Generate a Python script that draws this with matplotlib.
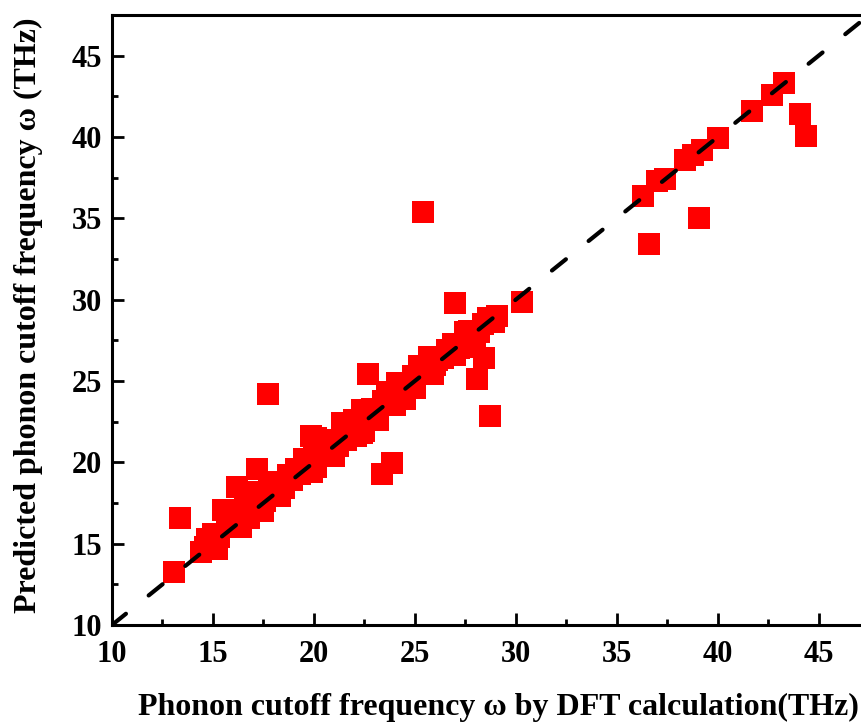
import matplotlib
matplotlib.use("Agg")
import matplotlib.pyplot as plt
from matplotlib.ticker import MultipleLocator

# phonon cutoff frequency (THz): DFT value vs. model prediction
dft = [13.05, 13.35, 17.75, 25.4, 27.0, 30.3, 28.1, 28.45, 28.7, 23.35, 23.85, 22.7,
       36.3, 37.0, 37.4, 38.4, 38.8, 39.2, 40.0, 39.1, 36.6, 41.7, 42.7, 43.3, 44.1, 44.4,
       14.4, 14.6, 14.7, 15.0, 15.3, 15.5, 15.7, 16.0, 16.2, 16.3, 16.6, 16.8, 17.0, 17.2,
       17.3, 17.6, 17.8, 18.0, 18.2, 18.5, 18.7, 18.9, 19.1, 19.3, 19.5, 19.7, 19.85, 20.0,
       20.1, 20.3, 20.5, 20.8, 20.8, 21.2, 21.4, 21.6, 21.8, 22.0, 22.1, 22.4, 22.4, 22.7,
       22.9, 23.1, 23.4, 23.6, 23.8, 24.0, 24.1, 24.4, 24.7, 24.9, 25.0, 25.2, 25.5, 25.7,
       26.0, 26.1, 26.4, 26.6, 26.9, 27.2, 27.5, 27.6, 27.7, 28.0, 28.2, 28.4, 28.6, 28.9,
       29.05, 15.2, 16.4, 17.5, 18.3, 19.9, 21.0, 22.5, 23.2, 24.5, 25.9, 27.0, 20.1, 21.6]
pred = [13.25, 16.6, 24.2, 35.4, 29.8, 29.85, 25.15, 26.4, 22.85, 19.3, 19.95, 25.45,
        36.35, 37.3, 37.4, 38.6, 38.9, 39.2, 39.95, 35.0, 33.45, 41.6, 42.6, 43.3, 41.4, 40.05,
        14.5, 14.8, 15.3, 15.6, 15.4, 17.1, 16.2, 16.0, 18.5, 16.5, 17.2, 16.6, 17.8, 19.6,
        18.2, 17.6, 18.6, 17.9, 18.8, 18.4, 19.2, 18.9, 19.6, 19.3, 20.2, 19.8, 21.6, 20.3,
        19.7, 20.6, 21.2, 20.8, 21.4, 21.0, 22.4, 21.4, 22.0, 22.6, 21.6, 23.2, 21.8, 22.9,
        23.3, 22.8, 23.8, 24.3, 24.0, 23.5, 24.9, 24.3, 24.8, 25.3, 24.6, 25.9, 25.4, 26.5,
        26.0, 26.3, 26.4, 26.9, 27.3, 27.0, 28.0, 27.1, 28.1, 27.6, 28.0, 28.5, 28.9, 28.6,
        29.0, 14.7, 16.0, 17.0, 17.9, 19.4, 20.4, 21.9, 22.6, 23.9, 25.4, 26.6, 21.5, 22.2]

xlim = (10, 47.1)
ylim = (10, 47.5)
ticks = [10, 15, 20, 25, 30, 35, 40, 45]

plt.rcParams['font.family'] = ['Liberation Serif', 'DejaVu Serif']
plt.rcParams['font.weight'] = 'bold'

fig = plt.figure(figsize=(8.61, 7.25), dpi=100)
ax = fig.add_axes([112 / 861, 100 / 725, 1 - 112 / 861, 610 / 725])

ax.scatter(dft, pred, marker='s', s=250, color='#ff0000', linewidths=0, zorder=2)
ax.plot([10, 50], [10, 50], color='black', lw=3, ls=(0, (4.3, 7)),
        dash_capstyle='round', zorder=3)

ax.set_xlim(*xlim)
ax.set_ylim(*ylim)
ax.set_xticks(ticks)
ax.set_yticks(ticks)
ax.xaxis.set_minor_locator(MultipleLocator(2.5))
ax.yaxis.set_minor_locator(MultipleLocator(2.5))
ax.tick_params(which='major', direction='in', length=8.6, width=2, labelsize=22, pad=11)
ax.tick_params(which='minor', direction='in', length=4.3, width=2)
ax.tick_params(axis='y', which='major', pad=7)
for side in ['left', 'bottom', 'top']:
    ax.spines[side].set_linewidth(2.2)
ax.spines['right'].set_visible(False)

ax.set_xlabel('Phonon cutoff frequency ω by DFT calculation(THz)', fontsize=23,
              fontweight='bold')
ax.xaxis.set_label_coords(0.516, -0.111)
ax.set_ylabel('Predicted phonon cutoff frequency ω (THz)', fontsize=23,
              fontweight='bold')
ax.yaxis.set_label_coords(-0.092, 0.508)

fig.savefig('out.png', dpi=100)
